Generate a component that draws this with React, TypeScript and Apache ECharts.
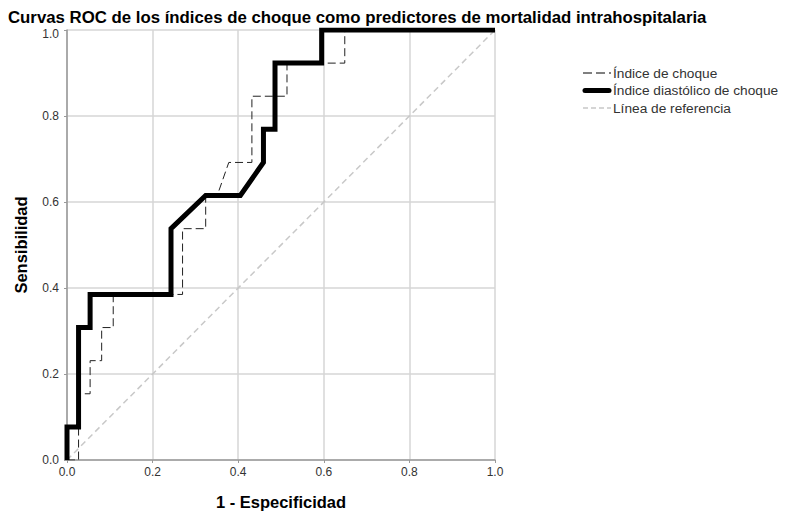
import React, { useEffect, useRef } from "react";
import * as echarts from "echarts";

const titleText =
  "Curvas ROC de los índices de choque como predictores de mortalidad intrahospitalaria";
const xAxisName = "1 - Especificidad";
const yAxisName = "Sensibilidad";
const seriesNames = ["Índice de choque", "Índice diastólico de choque", "Línea de referencia"];

// Índice de choque (1 - especificidad, sensibilidad)
const shockFpr = [0, 0.027, 0.027, 0.054, 0.054, 0.081, 0.081, 0.108, 0.108, 0.27, 0.27, 0.324, 0.324, 0.351, 0.378, 0.432, 0.432, 0.514, 0.514, 0.649, 0.649, 1];
const shockTpr = [0, 0, 0.154, 0.154, 0.231, 0.231, 0.308, 0.308, 0.385, 0.385, 0.538, 0.538, 0.615, 0.615, 0.692, 0.692, 0.846, 0.846, 0.923, 0.923, 1, 1];

// Índice diastólico de choque
const diastolicFpr = [0, 0, 0.027, 0.027, 0.054, 0.054, 0.243, 0.243, 0.324, 0.405, 0.459, 0.459, 0.486, 0.486, 0.595, 0.595, 1];
const diastolicTpr = [0, 0.077, 0.077, 0.308, 0.308, 0.385, 0.385, 0.538, 0.615, 0.615, 0.692, 0.769, 0.769, 0.923, 0.923, 1, 1];

// Línea de referencia
const refFpr = [0, 1];
const refTpr = [0, 1];

const zip = (xs: number[], ys: number[]) => xs.map((x, i) => [x, ys[i]]);

export default function App() {
  const ref = useRef<HTMLDivElement>(null);
  useEffect(() => {
    if (!ref.current) return;
    const chart = echarts.init(ref.current, null, { renderer: "svg" });
    const font = "'Liberation Sans', Arial, sans-serif";
    const legendStyles = [
      { stroke: "#000", lineWidth: 1, lineDash: [9, 4], lineCap: "butt" },
      { stroke: "#000", lineWidth: 5, lineCap: "round" },
      { stroke: "#c8c8c8", lineWidth: 1.5, lineDash: [5, 3], lineCap: "butt" },
    ];
    const legendTop = 73;
    const legendStep = 17.5;
    const legendGraphics = seriesNames.flatMap((name, i) => [
      {
        type: "line",
        shape: { x1: i === 1 ? 585 : 583, y1: legendTop + i * legendStep, x2: i === 1 ? 609 : 611, y2: legendTop + i * legendStep },
        style: { ...legendStyles[i], fill: null },
        silent: true,
      },
      {
        type: "text",
        x: 613,
        y: legendTop + i * legendStep,
        style: {
          text: name,
          fontFamily: font,
          fontSize: 13.7,
          fill: "#333",
          verticalAlign: "middle",
          align: "left",
        },
        silent: true,
      },
    ]);
    chart.setOption({
      animation: false,
      backgroundColor: "#ffffff",
      textStyle: { fontFamily: font },
      title: {
        text: titleText,
        left: 8,
        top: 11,
        padding: 0,
        textStyle: { fontFamily: font, fontSize: 16.8, fontWeight: "bold", color: "#000", lineHeight: 13 },
      },
      graphic: legendGraphics,
      grid: { left: 67, top: 30, width: 428, height: 430, containLabel: false, outerBoundsMode: "none" },
      xAxis: {
        type: "value",
        min: 0,
        max: 1,
        interval: 0.2,
        name: xAxisName,
        nameLocation: "middle",
        nameGap: 33,
        nameTextStyle: { fontFamily: font, fontSize: 16.5, fontWeight: "bold", color: "#000" },
        axisLine: { show: true, lineStyle: { color: "#999", width: 1.5 } },
        axisTick: { show: true, length: 3, lineStyle: { color: "#999" } },
        axisLabel: { margin: 6, fontSize: 12, color: "#333", formatter: (v: number) => v.toFixed(1) },
        splitLine: { show: true, lineStyle: { color: "#d6d6d6", width: 1.5 } },
      },
      yAxis: {
        type: "value",
        min: 0,
        max: 1,
        interval: 0.2,
        name: yAxisName,
        nameLocation: "middle",
        nameGap: 38,
        nameTextStyle: { fontFamily: font, fontSize: 16.5, fontWeight: "bold", color: "#000" },
        axisLine: { show: true, lineStyle: { color: "#999", width: 1.5 } },
        axisTick: { show: true, length: 3, lineStyle: { color: "#999" } },
        axisLabel: {
          margin: 8,
          fontSize: 12,
          lineHeight: 10,
          color: "#333",
          formatter: (v: number) => (v === 1 ? "{top|" + v.toFixed(1) + "}" : v.toFixed(1)),
          rich: {
            top: { fontSize: 12, lineHeight: 10, color: "#333", fontFamily: font, padding: [8, 0, 0, 0] },
          },
        },
        splitLine: { show: true, lineStyle: { color: "#d6d6d6", width: 1.5 } },
      },
      series: [
        {
          name: seriesNames[2],
          type: "line",
          data: zip(refFpr, refTpr),
          symbol: "none",
          showSymbol: false,
          lineStyle: { color: "#c8c8c8", width: 1.5, type: [6, 4] },
          itemStyle: { color: "#c8c8c8" },
          z: 2,
        },
        {
          name: seriesNames[0],
          type: "line",
          data: zip(shockFpr, shockTpr),
          symbol: "none",
          showSymbol: false,
          lineStyle: { color: "#222", width: 1, type: [8, 4] },
          itemStyle: { color: "#222" },
          z: 3,
        },
        {
          name: seriesNames[1],
          type: "line",
          data: zip(diastolicFpr, diastolicTpr),
          symbol: "none",
          showSymbol: false,
          lineStyle: { color: "#000", width: 5, cap: "butt", join: "miter" },
          itemStyle: { color: "#000" },
          z: 4,
        },
      ],
    });
    return () => chart.dispose();
  }, []);
  return (
    <div
      ref={ref}
      style={{ position: "fixed", left: 0, top: 0, width: 785, height: 512 }}
    />
  );
}
